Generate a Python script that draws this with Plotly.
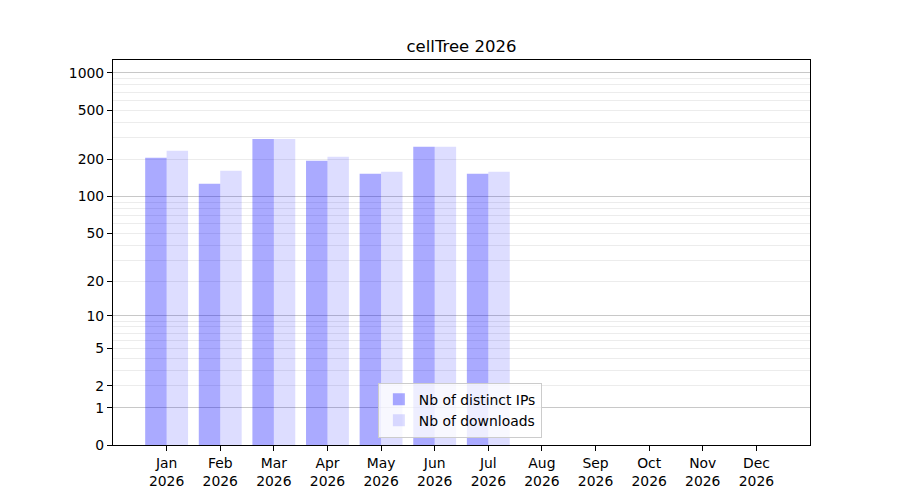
import numpy as np
import plotly.graph_objects as go

months = ["Jan", "Feb", "Mar", "Apr", "May", "Jun", "Jul", "Aug", "Sep", "Oct", "Nov", "Dec"]
year = "2026"
distinct_ips = [206, 127, 293, 195, 153, 253, 153, 0, 0, 0, 0, 0]
downloads = [235, 162, 293, 210, 159, 253, 159, 0, 0, 0, 0, 0]
label_ticks = [0, 1, 2, 5, 10, 20, 50, 100, 200, 500, 1000]
decade_ticks = [1, 10, 100, 1000]
minor_ticks = [m * d for d in (1, 10, 100) for m in range(2, 10)]

def tr(v):
    return np.log10(np.asarray(v, dtype=float) + 1)

xidx = list(range(len(months)))
ticktext = [f"{m}<br>{year}" for m in months]
FONT = "DejaVu Sans"

W, H = 892, 492  # page body has an 8px margin

fig = go.Figure()
fig.add_trace(go.Bar(
    x=xidx, y=tr(distinct_ips), width=0.4, offset=-0.4,
    marker=dict(color="rgba(0,0,255,0.333)", line=dict(width=0)),
    name="Nb of distinct IPs", xaxis="x", yaxis="y",
    customdata=distinct_ips, hovertemplate="%{customdata}<extra></extra>",
))
fig.add_trace(go.Bar(
    x=xidx, y=tr(downloads), width=0.4, offset=0.0,
    marker=dict(color="rgba(0,0,255,0.133)", line=dict(width=0)),
    name="Nb of downloads", xaxis="x", yaxis="y2",
    customdata=downloads, hovertemplate="%{customdata}<extra></extra>",
))

yr = [0, 3.105]
fig.update_layout(
    width=W, height=H,
    margin=dict(l=105, r=90, t=52, b=55),
    paper_bgcolor="white", plot_bgcolor="white",
    font=dict(family=FONT, size=13.9, color="black"),
    title=dict(text="cellTree 2026", x=0.5, xref="paper", xanchor="center",
               y=1 - 38 / H, yanchor="middle",
               font=dict(family=FONT, size=16.5, color="black")),
    barmode="overlay",
    showlegend=True,
    legend=dict(x=0.38, y=0.019, xanchor="left", yanchor="bottom",
                bgcolor="rgba(255,255,255,0.8)", bordercolor="#cccccc", borderwidth=1,
                font=dict(family=FONT, size=13.9, color="black"),
                traceorder="normal", tracegroupgap=0),
    xaxis=dict(range=[-1, 12], tickmode="array", tickvals=xidx, ticktext=ticktext,
               showgrid=False, zeroline=False, showline=True, linecolor="black",
               linewidth=1.1, mirror=True, ticks="outside", ticklen=5, tickwidth=1.1,
               tickcolor="black"),
    yaxis=dict(range=yr, tickmode="array", tickvals=tr(label_ticks),
               ticktext=[str(t) for t in label_ticks],
               showgrid=False, zeroline=False, showline=True, linecolor="black",
               linewidth=1.1, mirror=True, ticks="outside", ticklen=5, tickwidth=1.1,
               tickcolor="black",
               minor=dict(tickmode="array", tickvals=tr(minor_ticks), showgrid=True,
                          gridcolor="#ececec", gridwidth=1, ticks="")),
    yaxis2=dict(range=yr, overlaying="y", side="left", tickmode="array",
                tickvals=tr(decade_ticks), showticklabels=False, ticks="",
                showgrid=True, gridcolor="#c8c8c8", gridwidth=1,
                zeroline=False, showline=False),
)

fig.write_html("out.html")
